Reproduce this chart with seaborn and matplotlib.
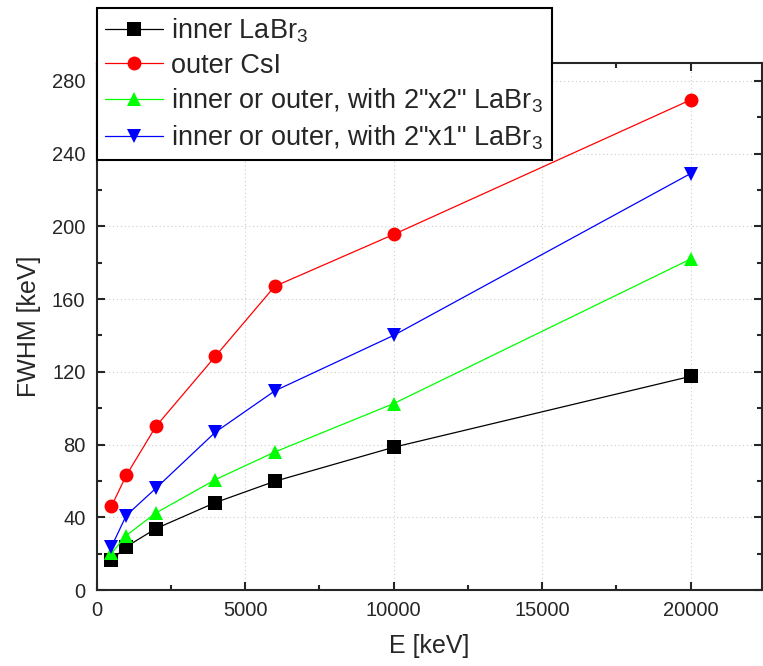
import numpy as np
import pandas as pd
import matplotlib
matplotlib.use("Agg")
import matplotlib.pyplot as plt
import seaborn as sns
from matplotlib.ticker import MultipleLocator

# energies [keV]
energy = [500, 1000, 2000, 4000, 6000, 10000, 20000]

# FWHM [keV]
inner_labr3 = [16.5, 23.8, 33.8, 48.1, 59.8, 78.5, 117.5]
outer_csi = [46.0, 63.0, 90.0, 128.5, 167.0, 195.5, 269.5]
labr_2x2 = [20.2, 30.0, 42.4, 60.7, 75.9, 102.5, 182.0]
labr_2x1 = [23.7, 41.0, 56.0, 86.8, 109.5, 140.0, 229.0]

labels = ["inner LaBr$_3$", "outer CsI",
          "inner or outer, with 2\"x2\" LaBr$_3$",
          "inner or outer, with 2\"x1\" LaBr$_3$"]
colors = ["black", "red", "#00ff00", "blue"]
markers = ["s", "o", "^", "v"]

frames = []
for lab, vals in zip(labels, [inner_labr3, outer_csi, labr_2x2, labr_2x1]):
    frames.append(pd.DataFrame({"E": energy, "FWHM": vals, "series": lab}))
df = pd.concat(frames, ignore_index=True)

sns.set_style("ticks")
plt.rcParams['font.family'] = ['Liberation Sans', 'DejaVu Sans']
plt.rcParams['mathtext.fontset'] = 'custom'
plt.rcParams['mathtext.rm'] = 'Liberation Sans'
plt.rcParams['mathtext.it'] = 'Liberation Sans'

fig = plt.figure(figsize=(7.63, 6.66), dpi=100)
ax = fig.add_axes([0.1265, 0.114, 0.872, 0.792])

sns.lineplot(data=df, x="E", y="FWHM", hue="series", style="series",
             palette=dict(zip(labels, colors)),
             markers=dict(zip(labels, markers)),
             dashes=False, linewidth=0.9, markersize=10,
             markeredgewidth=0, ax=ax)

ax.set_xlim(0, 22400)
ax.set_ylim(0, 290)
ax.xaxis.set_major_locator(MultipleLocator(5000))
ax.xaxis.set_minor_locator(MultipleLocator(2500))
ax.yaxis.set_major_locator(MultipleLocator(40))
ax.yaxis.set_minor_locator(MultipleLocator(20))
ax.grid(True, which="major", color="#cccccc", linestyle=(0, (1, 2.5)), linewidth=0.8)
ax.set_axisbelow(True)

ax.tick_params(which="both", direction="in", top=True, right=True, width=1.5,
               labelsize=14.5, pad=8)
ax.tick_params(which="major", length=6)
ax.tick_params(which="minor", length=3.5)
for sp in ax.spines.values():
    sp.set_linewidth(1.5)

ax.set_xlabel("E [keV]", fontsize=18, labelpad=10)
ax.set_ylabel("FWHM [keV]", fontsize=18, labelpad=8)

handles, labs = ax.get_legend_handles_labels()
leg = ax.legend(handles, labs, loc="upper left", bbox_to_anchor=(0.127, 0.988),
                bbox_transform=fig.transFigure, borderaxespad=0, fontsize=19.5,
                frameon=True, fancybox=False, framealpha=1, edgecolor="black",
                handlelength=2.15, handletextpad=0.3, labelspacing=0.3,
                borderpad=0.3)
leg.get_frame().set_linewidth(1.5)

fig.savefig("out.png", dpi=100)
